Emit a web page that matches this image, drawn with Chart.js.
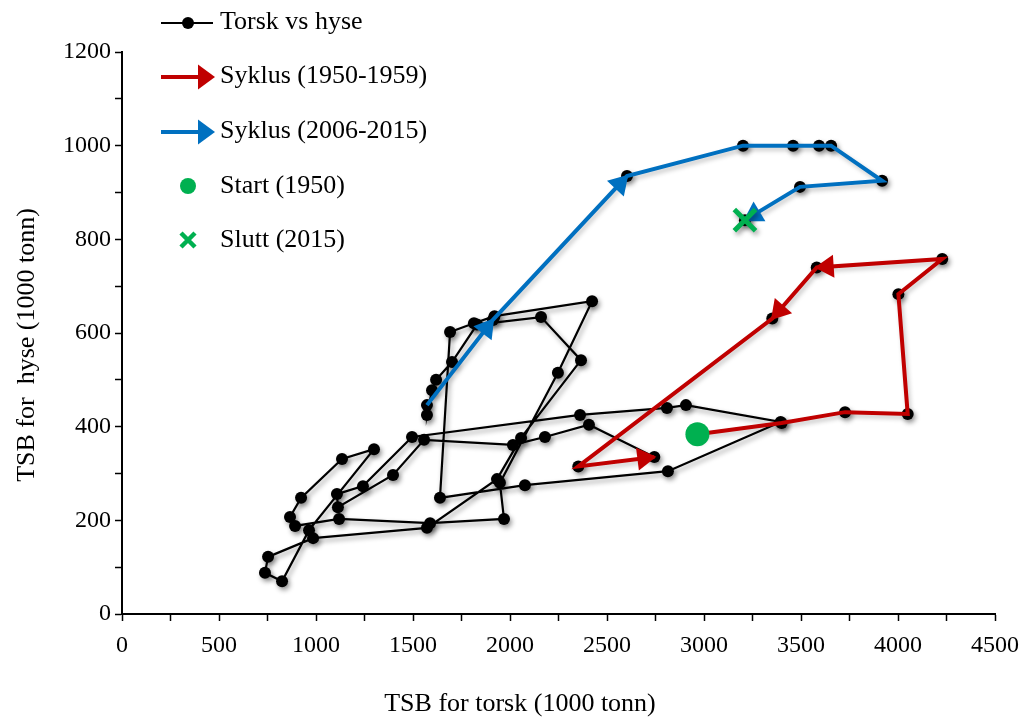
<!DOCTYPE html>
<html>
<head>
<meta charset="utf-8">
<script src="https://cdn.jsdelivr.net/npm/chart.js@4.4.1/dist/chart.umd.min.js"></script>
<style>
  html, body { margin: 0; padding: 0; background: #fff; }
  #wrap { width: 1035px; height: 717px; }
</style>
</head>
<body>
<div id="wrap"><canvas id="fiskChart" width="1035" height="717"></canvas></div>
<script>
// TSB for torsk og hyse (1000 tonn), år for år fra 1950 til 2015
const torsk = [
    2966, 3400, 3727, 4050, 4002, 4228, 3581, 3352, 2352, 2744,
    2407, 2180, 2015, 1557, 1397, 1113, 1108, 1242, 1495, 2361,
    2809, 2907, 3395, 2814, 2077, 1639, 1691, 1814, 1920, 2423,
    2247, 1948, 1969, 1588, 1119, 892, 866, 923, 1134, 1299,
    964, 825, 737, 753, 985, 1572, 1933, 2057, 2366, 2160,
    1830, 1701, 1619, 1598, 1572,
    1572, 1912, 2603, 3201, 3459, 3593, 3655, 3918, 3495, 3211
];
const hyse = [
    384, 408, 431, 427, 683, 758, 740, 631, 315, 335,
    404, 378, 361, 372, 297, 228, 256, 273, 378, 425,
    440, 446, 410, 305, 275, 248, 602, 621, 636, 668,
    515, 280, 203, 194, 203, 188, 207, 248, 331, 352,
    179, 70, 88, 122, 162, 184, 288, 376, 542, 634,
    618, 538, 500, 478, 425,
    446, 628, 935, 1000, 1000, 1000, 1000, 925, 912, 841
];
const legendLabels = ['Torsk vs hyse', 'Syklus (1950-1959)', 'Syklus (2006-2015)', 'Start (1950)', 'Slutt (2015)'];
const xTicks = [0, 500, 1000, 1500, 2000, 2500, 3000, 3500, 4000, 4500];
const yTicks = [0, 200, 400, 600, 800, 1000, 1200];

const cycleLen = 10;
const redArrows = [6, 7, 9];     // 1956, 1957, 1959
const blueArrows = [1, 2, 9];    // 2007, 2008, 2015

const RED = '#C00000', BLUE = '#0070C0', GREEN = '#00B050';
const FONT = '"Liberation Serif", "Times New Roman", serif';

const points = torsk.map((t, i) => ({ x: t, y: hyse[i] }));
const redPts = points.slice(0, cycleLen);
const bluePts = points.slice(points.length - cycleLen);

function arrowHead(ctx, x0, y0, x1, y1, color, len, half) {
    const a = Math.atan2(y1 - y0, x1 - x0),
        c = Math.cos(a), s = Math.sin(a);
    ctx.save();
    ctx.fillStyle = color;
    ctx.beginPath();
    ctx.moveTo(x1 + 2 * c, y1 + 2 * s);
    ctx.lineTo(x1 - len * c + half * s, y1 - len * s - half * c);
    ctx.lineTo(x1 - len * c - half * s, y1 - len * s + half * c);
    ctx.closePath();
    ctx.fill();
    ctx.restore();
}

// skygge under de svarte punktene
const shadowPlugin = {
    id: 'punktSkygge',
    beforeDatasetDraw(chart, args) {
        if (args.index !== 0 && args.index !== 4) return;
        const ctx = chart.ctx;
        ctx.save();
        ctx.shadowColor = 'rgba(0,0,0,0.4)';
        ctx.shadowBlur = 5;
        ctx.shadowOffsetX = 2;
        ctx.shadowOffsetY = 3;
    },
    afterDatasetDraw(chart, args) {
        if (args.index === 0 || args.index === 4) chart.ctx.restore();
    }
};

// pilspisser på syklusene
const arrowPlugin = {
    id: 'piler',
    afterDatasetDraw(chart, args) {
        const list = args.index === 1 ? redArrows : args.index === 2 ? blueArrows : null;
        if (!list) return;
        const color = args.index === 1 ? RED : BLUE;
        const pts = chart.getDatasetMeta(args.index).data;
        list.forEach(i => {
            arrowHead(chart.ctx, pts[i - 1].x, pts[i - 1].y, pts[i].x, pts[i].y, color, 17, 11.5);
        });
    }
};

// egen tegnforklaring og aksetitler
const legendPlugin = {
    id: 'tegnforklaring',
    afterDraw(chart) {
        const ctx = chart.ctx;
        const rows = [22, 76, 131, 186, 240];
        const lx0 = 161, lx1 = 213, mid = 188, tx = 220;
        ctx.save();

        ctx.strokeStyle = '#000';
        ctx.lineWidth = 2;
        ctx.beginPath();
        ctx.moveTo(lx0, rows[0] + 1);
        ctx.lineTo(lx1, rows[0] + 1);
        ctx.stroke();
        ctx.fillStyle = '#000';
        ctx.beginPath();
        ctx.arc(mid, rows[0] + 1, 6, 0, Math.PI * 2);
        ctx.fill();

        [[RED, rows[1] + 1], [BLUE, rows[2] + 1]].forEach(([col, y]) => {
            ctx.strokeStyle = col;
            ctx.lineWidth = 4;
            ctx.beginPath();
            ctx.moveTo(lx0, y);
            ctx.lineTo(lx1 - 12, y);
            ctx.stroke();
            arrowHead(ctx, lx0, y, lx1, y, col, 15, 12.5);
        });

        ctx.fillStyle = GREEN;
        ctx.beginPath();
        ctx.arc(mid, rows[3], 8, 0, Math.PI * 2);
        ctx.fill();

        ctx.strokeStyle = GREEN;
        ctx.lineWidth = 4.5;
        ctx.beginPath();
        ctx.moveTo(mid - 7, rows[4] - 7);
        ctx.lineTo(mid + 7, rows[4] + 7);
        ctx.moveTo(mid + 7, rows[4] - 7);
        ctx.lineTo(mid - 7, rows[4] + 7);
        ctx.stroke();

        ctx.fillStyle = '#000';
        ctx.font = '26px ' + FONT;
        ctx.textBaseline = 'middle';
        ctx.textAlign = 'left';
        legendLabels.forEach((t, i) => ctx.fillText(t, tx, rows[i]));

        // aksetitler
        ctx.textAlign = 'center';
        ctx.fillText('TSB for torsk (1000 tonn)', 520, 704);
        ctx.translate(27, 345);
        ctx.rotate(-Math.PI / 2);
        ctx.fillText('TSB for  hyse (1000 tonn)', 0, 0);
        ctx.restore();
    }
};

const tickFont = { family: FONT, size: 24 };

new Chart(document.getElementById('fiskChart'), {
    type: 'scatter',
    data: {
        datasets: [{
            label: legendLabels[0],
            data: points,
            showLine: true,
            borderColor: '#000',
            borderWidth: 2.2,
            pointRadius: 6,
            pointBackgroundColor: '#000',
            pointBorderWidth: 0,
            order: 5
        }, {
            label: legendLabels[1],
            data: redPts,
            showLine: true,
            borderColor: RED,
            borderWidth: 4,
            pointRadius: 0,
            order: 4
        }, {
            label: legendLabels[2],
            data: bluePts,
            showLine: true,
            borderColor: BLUE,
            borderWidth: 4,
            pointRadius: 0,
            order: 3
        }, {
            label: legendLabels[3],
            data: [points[0]],
            pointRadius: 12,
            pointBackgroundColor: GREEN,
            pointBorderWidth: 0,
            order: 2
        }, {
            label: legendLabels[4],
            data: [points[points.length - 1]],
            pointStyle: 'crossRot',
            pointRadius: 15,
            pointBorderColor: GREEN,
            pointBorderWidth: 5,
            order: 1
        }]
    },
    options: {
        responsive: false,
        animation: false,
        devicePixelRatio: 1,
        layout: { padding: { top: 52, right: 40, left: 0, bottom: 0 } },
        plugins: {
            legend: { display: false },
            tooltip: { enabled: false }
        },
        scales: {
            x: {
                type: 'linear',
                min: xTicks[0],
                max: xTicks[xTicks.length - 1],
                afterFit: s => { s.height = 103; },
                border: { color: '#000', width: 2 },
                grid: { drawOnChartArea: false, drawTicks: true, tickLength: 7, tickColor: '#000', tickWidth: 1.5 },
                ticks: {
                    stepSize: 250,
                    autoSkip: false,
                    maxRotation: 0,
                    padding: 10,
                    color: '#000',
                    font: tickFont,
                    callback: v => xTicks.includes(v) ? v : ''
                }
            },
            y: {
                type: 'linear',
                min: yTicks[0],
                max: yTicks[yTicks.length - 1],
                afterFit: s => { s.width = 122; },
                border: { color: '#000', width: 2 },
                grid: { drawOnChartArea: false, drawTicks: true, tickLength: 7, tickColor: '#000', tickWidth: 1.5 },
                ticks: {
                    stepSize: 100,
                    autoSkip: false,
                    padding: 4,
                    color: '#000',
                    font: tickFont,
                    callback: v => yTicks.includes(v) ? v : ''
                }
            }
        }
    },
    plugins: [shadowPlugin, arrowPlugin, legendPlugin]
});
</script>
</body>
</html>
